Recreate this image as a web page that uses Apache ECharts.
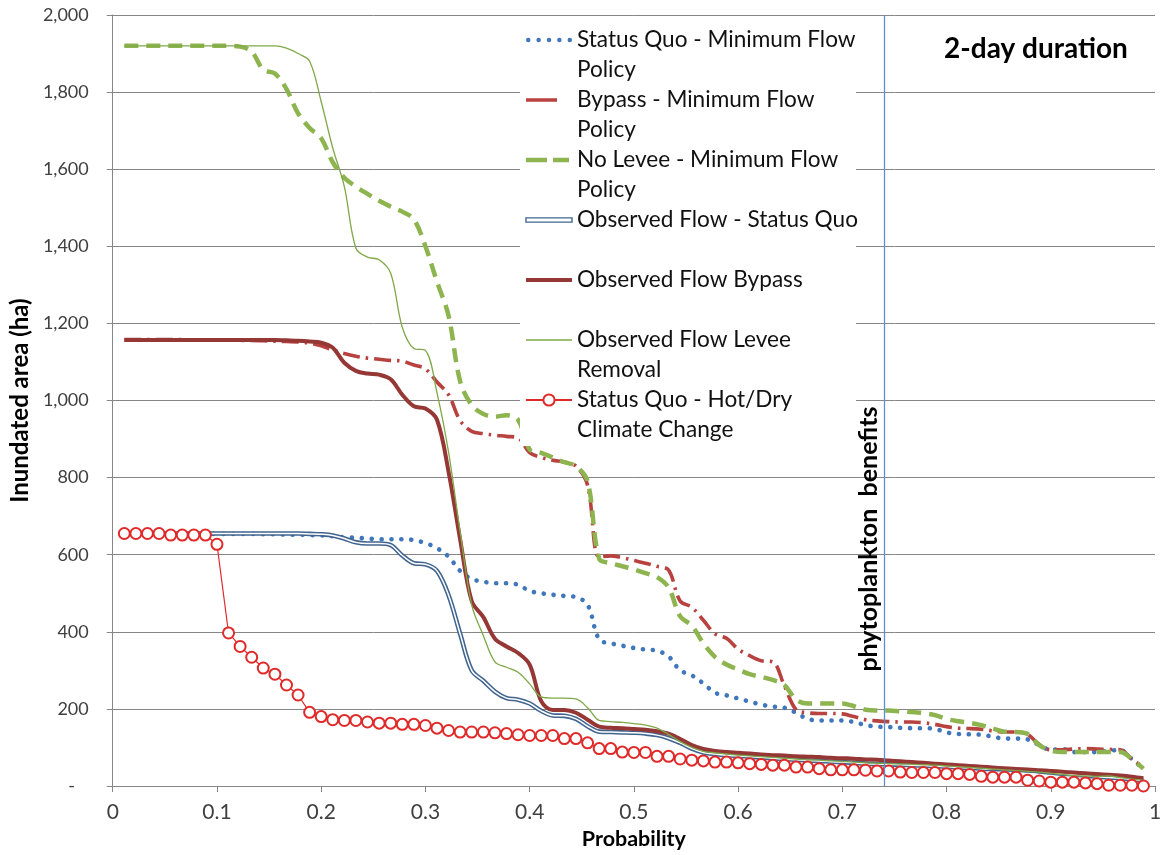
<!DOCTYPE html>
<html><head><meta charset="utf-8">
<script src="https://cdn.jsdelivr.net/npm/echarts@6/dist/echarts.min.js"></script>
<style>html,body{margin:0;padding:0;background:#fff}#c{width:1167px;height:855px}</style>
</head><body><div id="c"></div>
<script>
// ---------------- DATA ----------------
const probability = [0.0111,0.0222,0.0333,0.0444,0.0556,0.0667,0.0778,0.0889,0.1,0.1111,
 0.1222,0.1333,0.1444,0.1556,0.1667,0.1778,0.1889,0.2,0.2111,0.2222,
 0.2333,0.2444,0.2556,0.2667,0.2778,0.2889,0.3,0.3111,0.3222,0.3333,
 0.3444,0.3556,0.3667,0.3778,0.3889,0.4,0.4111,0.4222,0.4333,0.4444,
 0.4556,0.4667,0.4778,0.4889,0.5,0.5111,0.5222,0.5333,0.5444,0.5556,
 0.5667,0.5778,0.5889,0.6,0.6111,0.6222,0.6333,0.6444,0.6556,0.6667,
 0.6778,0.6889,0.7,0.7111,0.7222,0.7333,0.7444,0.7556,0.7667,0.7778,
 0.7889,0.8,0.8111,0.8222,0.8333,0.8444,0.8556,0.8667,0.8778,0.8889,
 0.9,0.9111,0.9222,0.9333,0.9444,0.9556,0.9667,0.9778,0.9889];

const statusQuoMinFlow = [655,655,655,655,655,654,654,654,654,654,
 654,654,653,653,652,652,651,650,648,645,
 644,642,640,640,640,638,630,617,595,558,
 537,530,526,526,522,506,500,496,493,490,
 470,380,370,364,358,354,351,336,300,287,
 266,242,235,227,219,211,206,203,190,174,
 170,170,170,166,158,154,153,151,150,150,
 148,139,135,134,133,128,123,123,121,106,
 94,96,88,88,88,92,93,70,45];

const bypassMinFlow = [1158,1158,1158,1158,1158,1158,1157,1157,1157,1157,
 1156,1156,1155,1154,1153,1152,1149,1142,1131,1122,
 1115,1110,1107,1104,1102,1092,1082,1048,1015,948,
 920,914,910,907,903,865,852,845,840,830,
 780,594,597,592,585,578,570,560,480,464,
 430,395,383,355,338,325,322,260,198,190,
 188,188,187,180,172,169,167,166,166,164,
 160,154,150,149,147,143,140,140,134,108,
 94,94,96,97,96,95,94,70,48];

const noLeveeMinFlow = [1920,1920,1920,1920,1920,1920,1920,1920,1920,1920,
 1918,1905,1858,1848,1808,1745,1707,1680,1618,1578,
 1555,1536,1518,1503,1490,1470,1400,1308,1220,1050,
 988,965,958,962,950,873,864,852,840,830,
 790,590,578,570,562,552,542,515,440,416,
 370,335,315,302,290,283,275,262,224,214,
 214,214,214,207,198,196,196,194,192,189,
 184,174,168,164,158,149,141,140,135,106,
 92,88,88,88,88,88,88,70,45];

const observedStatusQuo = [655,655,655,655,655,655,655,655,655,655,
 655,655,655,655,655,655,654,653,650,642,
 632,629,629,625,598,578,575,558,495,395,
 300,273,245,228,224,214,195,183,182,174,
 155,141,140,139,138,136,132,124,112,97,
 87,83,80,78,76,74,72,70,68,66,
 65,63,62,60,58,57,56,55,54,53,
 52,50,48,47,45,44,43,42,40,38,
 35,32,30,27,24,22,20,17,14];

const observedBypass = [1157,1157,1157,1157,1157,1157,1157,1157,1157,1157,
 1157,1157,1157,1157,1156,1155,1153,1150,1137,1098,
 1077,1070,1067,1055,1015,985,979,950,815,640,
 480,438,382,362,345,315,220,197,197,190,
 172,154,151,150,148,146,142,136,122,106,
 96,91,88,86,84,82,80,79,77,76,
 75,73,72,71,69,68,66,64,62,60,
 58,56,54,52,50,48,46,44,43,41,
 39,37,35,33,31,29,27,24,20];

const observedLeveeRemoval = [1920,1920,1920,1920,1920,1920,1920,1920,1920,1920,
 1920,1920,1920,1920,1914,1900,1880,1775,1655,1555,
 1395,1372,1365,1330,1190,1135,1130,1020,866,660,
 470,390,322,308,295,265,231,228,228,226,
 203,170,167,165,162,158,150,134,115,100,
 90,86,83,80,78,76,74,72,70,68,
 67,65,64,62,60,59,58,57,56,55,
 54,52,50,48,46,44,42,40,38,36,
 33,30,27,26,25,26,22,18,15];

const statusQuoHotDry = [655,655,655,655,651,651,651,651,627,397,
 362,334,306,290,262,236,191,180,172,170,
 170,166,163,163,160,160,157,150,144,140,
 140,140,138,136,133,131,131,131,123,123,
 112,97,97,88,87,87,77,77,70,67,
 65,62,62,60,58,56,54,54,49,49,
 45,42,42,42,41,39,39,36,35,35,
 35,32,32,30,25,23,23,23,15,13,
 10,10,10,8,6,2,2,2,0];

const seriesNames = ['Status Quo - Minimum Flow Policy','Bypass - Minimum Flow Policy','No Levee - Minimum Flow Policy',
 'Observed Flow - Status Quo','Observed Flow Bypass','Observed Flow Levee Removal','Status Quo - Hot/Dry Climate Change'];
const legendText = ['Status Quo - Minimum Flow\nPolicy','Bypass - Minimum Flow\nPolicy','No Levee - Minimum Flow\nPolicy',
 'Observed Flow - Status Quo\n ','Observed Flow Bypass\n ','Observed Flow Levee\nRemoval','Status Quo - Hot/Dry\nClimate Change'];
const benefitThreshold = 0.745;
const benefitLabel = 'phytoplankton  benefits';
const durationLabel = '2-day duration';
const xTitle = 'Probability';
const yTitle = 'Inundated area (ha)';
const yZeroLabel = '-   ';

// ---------------- CHART ----------------
const FONT = 'Lato, "Open Sans", sans-serif';
const pairs = ys => probability.map((p, i) => [p, ys[i]]);
const labelMap = {}; seriesNames.forEach((n, i) => labelMap[n] = ' \n' + legendText[i]);
const SM = 0.35;

// legend icon shapes (46 px wide, thin)
const END = 'M45.95,1.9H46V1.95H45.95Z';
const iconDots = 'path://M0,2a2.2,2.2 0 1,0 4.4,0a2.2,2.2 0 1,0 -4.4,0M10.2,2a2.2,2.2 0 1,0 4.4,0a2.2,2.2 0 1,0 -4.4,0M20.4,2a2.2,2.2 0 1,0 4.4,0a2.2,2.2 0 1,0 -4.4,0M30.6,2a2.2,2.2 0 1,0 4.4,0a2.2,2.2 0 1,0 -4.4,0M40.8,2a2.2,2.2 0 1,0 4.4,0a2.2,2.2 0 1,0 -4.4,0';
const iconLongDash = 'path://M0,0.2H31V3.8H0Z' + END;
const iconDash = 'path://M0,0H21V4.3H0ZM27,0H43V4.3H27Z' + END;
const iconDouble = 'path://M0,0H46V4.2H0Z';
const iconThick = 'path://M0,0H46V4H0Z';
const iconThin = 'path://M0,1.35H46V2.65H0Z' + 'M45.95,0H46V0.05H45.95Z' + 'M45.95,3.95H46V4H45.95Z';

const chart = echarts.init(document.getElementById('c'), null, {renderer: 'canvas'});
const axisColor = '#868686';
const option = {
  animation: false,
  backgroundColor: '#fff',
  grid: {left: 112, right: 12, top: 15, bottom: 69},
  xAxis: {
    type: 'value', min: 0, max: 1, interval: 0.1,
    axisLine: {show: true, onZero: false, lineStyle: {color: axisColor, width: 1}},
    axisTick: {show: true, length: 6, lineStyle: {color: axisColor}},
    splitLine: {show: false},
    axisLabel: {color: '#404040', fontSize: 21, fontFamily: FONT, margin: 16,
      formatter: v => String(+v.toFixed(1))},
    name: xTitle, nameLocation: 'middle', nameGap: 38,
    nameTextStyle: {fontFamily: FONT, fontWeight: 'bold', fontSize: 21.5, color: '#000'}
  },
  yAxis: {
    type: 'value', min: 0, max: 2000, interval: 200,
    axisLine: {show: true, lineStyle: {color: axisColor, width: 1}},
    axisTick: {show: true, length: 6, lineStyle: {color: axisColor}},
    splitLine: {show: true, lineStyle: {color: axisColor, width: 1}},
    axisLabel: {color: '#404040', fontSize: 18, fontFamily: FONT, margin: 24,
      formatter: v => v === 0 ? yZeroLabel : v.toLocaleString('en-US')},
    name: yTitle, nameLocation: 'middle', nameGap: 76,
    nameTextStyle: {fontFamily: FONT, fontWeight: 'bold', fontSize: 24, color: '#000'}
  },
  legend: {
    orient: 'vertical', left: 525, top: -5, padding: 0, itemGap: -30,
    itemWidth: 46, itemHeight: 14,
    textStyle: {fontFamily: FONT, fontSize: 22.6, color: '#111', lineHeight: 30},
    formatter: n => labelMap[n],
    data: [
      {name: seriesNames[0], icon: iconDots},
      {name: seriesNames[1], icon: iconLongDash},
      {name: seriesNames[2], icon: iconDash},
      {name: seriesNames[3], icon: iconDouble,
        itemStyle: {color: '#fff', borderColor: '#41658F', borderWidth: 1.4}},
      {name: seriesNames[4], icon: iconThick},
      {name: seriesNames[5], icon: iconThin},
      {name: seriesNames[6]}
    ]
  },
  graphic: [
    {type: 'rect', z: 3, shape: {x: 520, y: 18, width: 336, height: 428}, style: {fill: '#fff'}},
    {type: 'text', z: 5, x: 1036, y: 49,
      style: {text: durationLabel, font: 'bold 28px Lato, sans-serif', fill: '#000', align: 'center', verticalAlign: 'middle'}}
  ],
  series: [
    {name: 'threshold', type: 'line', data: [], z: 1, silent: true,
      markLine: {symbol: 'none', silent: true, label: {show: false},
        lineStyle: {color: '#5B8FD0', width: 1.3, type: 'solid'}, data: [{xAxis: benefitThreshold}]}},
    {name: seriesNames[0], type: 'line', data: pairs(statusQuoMinFlow), smooth: SM, symbol: 'none', z: 2,
      itemStyle: {color: '#3F76BC'}, lineStyle: {color: '#3F76BC', width: 4.6, type: [0.1, 9.8], cap: 'round'}},
    {name: seriesNames[1], type: 'line', data: pairs(bypassMinFlow), smooth: SM, symbol: 'none', z: 2,
      itemStyle: {color: '#B8423F'}, lineStyle: {color: '#B8423F', width: 3.6, type: [17, 6, 2.5, 6]}},
    {name: seriesNames[2], type: 'line', data: pairs(noLeveeMinFlow), smooth: SM, symbol: 'none', z: 2,
      itemStyle: {color: '#8DB44E'}, lineStyle: {color: '#8DB44E', width: 4.5, type: [14, 8]}},
    {name: seriesNames[3], type: 'line', data: pairs(observedStatusQuo), smooth: SM, symbol: 'none', z: 2,
      itemStyle: {color: '#41658F'}, lineStyle: {color: '#41658F', width: 4.6}},
    {name: 'observedStatusQuoInner', type: 'line', data: pairs(observedStatusQuo), smooth: SM, symbol: 'none', z: 2,
      silent: true, lineStyle: {color: '#ffffff', width: 1.5}},
    {name: seriesNames[4], type: 'line', data: pairs(observedBypass), smooth: SM, symbol: 'none', z: 2,
      itemStyle: {color: '#953735'}, lineStyle: {color: '#953735', width: 4}},
    {name: seriesNames[5], type: 'line', data: pairs(observedLeveeRemoval), smooth: SM, symbol: 'none', z: 2,
      itemStyle: {color: '#7FA848'}, lineStyle: {color: '#7FA848', width: 1.3}},
    {name: seriesNames[6], type: 'line', data: pairs(statusQuoHotDry), smooth: false,
      symbol: 'emptyCircle', symbolSize: 11, showSymbol: true, showAllSymbol: true, z: 2,
      itemStyle: {color: '#E02A2A', borderWidth: 1.1}, lineStyle: {color: '#E02A2A', width: 1.2}}
  ]
};
chart.setOption(option);
const bx = chart.convertToPixel({xAxisIndex: 0}, benefitThreshold);
chart.setOption({graphic: [
  option.graphic[0], option.graphic[1],
  {type: 'text', z: 5, x: bx - 20, y: 539, rotation: Math.PI / 2,
    style: {text: benefitLabel, font: 'bold 25px Lato, sans-serif', fill: '#000', align: 'center', verticalAlign: 'middle'}}
]});
</script></body></html>
